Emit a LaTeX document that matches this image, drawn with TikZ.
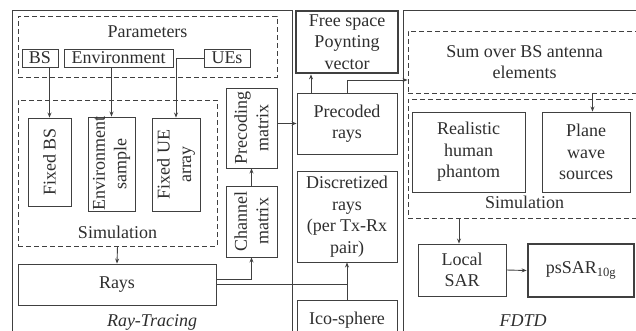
\documentclass[tikz,border=0pt]{standalone}
\usepackage{fontspec}
\setmainfont{Liberation Serif}
\usetikzlibrary{arrows.meta}
\definecolor{ink}{HTML}{404040}
\definecolor{txt}{HTML}{2E2E2E}
\tikzset{
  every node/.style={font=\fontsize{18}{21.5}\selectfont, text=txt},
  box/.style={draw=ink, line width=0.9pt, align=center, inner sep=0pt},
  thickbox/.style={box, line width=2.8pt},
  dbox/.style={draw=ink, line width=0.9pt, dash pattern=on 5pt off 3pt, inner sep=0pt},
  frame/.style={draw=ink, line width=0.9pt},
  tag/.style={anchor=base, inner sep=0pt},
  link/.style={draw=ink, line width=0.9pt},
  arr/.style={link, -{Stealth[length=5pt,width=4pt]}},
}
\begin{document}
\begin{tikzpicture}[x=1pt,y=-1pt]
\useasboundingbox (0,0) rectangle (636,331);
\clip (0,0) rectangle (636,331);

% outer frames (open towards the lower and right edges)
\draw[frame] (12,10) rectangle (292,360);
\draw[frame] (403,10) rectangle (660,360);

% ---- Ray-Tracing block ----
\node[dbox, minimum width=259pt, minimum height=61pt] (par) at (147.5,46.5) {};
\node[tag] (parlbl) at (147.5,38) {Parameters};
\node[box, minimum width=36pt, minimum height=18pt] (bs) at (40,58) {BS};
\node[box, minimum width=109pt, minimum height=18pt] (env) at (118.5,58) {Environment};
\node[box, minimum width=46pt, minimum height=18pt] (ues) at (227,58) {UEs};

\node[dbox, minimum width=199pt, minimum height=146pt] (sim1) at (117.5,173) {};
\node[tag] (sim1lbl) at (117.5,238) {Simulation};
\node[box, rotate=90, minimum width=88pt, minimum height=43pt] (fbs) at (49.5,162) {Fixed BS};
\node[box, rotate=90, minimum width=92pt, minimum height=47pt] (envs) at (111.5,164) {Environment\\sample};
\node[box, rotate=90, minimum width=93pt, minimum height=48pt] (fue) at (176,164.5) {Fixed UE\\array};

\node[box, rotate=90, minimum width=80pt, minimum height=51pt] (prec) at (251.5,128) {Precoding\\matrix};
\node[box, rotate=90, minimum width=71pt, minimum height=51pt] (chan) at (251.5,221.5) {Channel\\matrix};
\node[box, minimum width=198pt, minimum height=41pt] (rays) at (117,284.5) {Rays};
\node[tag] (rtlbl) at (152,326) {\itshape Ray-Tracing};

% ---- middle column ----
\node[thickbox, minimum width=102pt, minimum height=62pt] (fs) at (347,42) {Free space\\Poynting\\vector};
\node[box, minimum width=100pt, minimum height=61pt] (prr) at (347,123.5) {Precoded\\rays};
\node[box, minimum width=100pt, minimum height=91pt] (disc) at (347,216.5) {Discretized\\rays\\(per Tx-Rx\\pair)};
\node[box, minimum width=100pt, minimum height=40pt] (ico) at (347,320) {Ico-sphere};

% ---- FDTD block ----
\node[dbox, align=center, minimum width=233pt, minimum height=62pt] (sum) at (524.5,62) {Sum over BS antenna\\elements};
\node[dbox, minimum width=233pt, minimum height=119pt] (sim2) at (524.5,158.5) {};
\node[tag] (sim2lbl) at (524.5,208) {Simulation};
\node[box, minimum width=113pt, minimum height=80pt] (rhp) at (468.5,152) {Realistic\\human\\phantom};
\node[box, minimum width=88pt, minimum height=80pt] (pws) at (586,152) {Plane\\wave\\sources};
\node[box, minimum width=88pt, minimum height=52pt] (lsar) at (462,270) {Local\\SAR};
\node[thickbox, minimum width=106pt, minimum height=53pt] (pssar) at (581,270.5) {psSAR\textsubscript{10g}};
\node[tag] (fdtdlbl) at (523,326) {\itshape FDTD};

% ---- connectors ----
\draw[arr] (fbs.east |- bs.south) -- (fbs.east);
\draw[arr] (envs.east |- env.south) -- (envs.east);
\draw[arr] (ues.west) -| (fue.east);
\draw[arr] (sim1.south) -- (rays.north);
\draw[arr] ([yshift=5.5pt]rays.east) -| (chan.west);
\draw[arr] (chan.east) -- (prec.west);
\draw[arr] (prec.south |- prr.west) -- (prr.west);
\draw[arr] ([xshift=-36pt]prr.north) -- ([xshift=-36pt]prr.north |- fs.south);
\draw[arr] (prr.north) |- ([yshift=-18pt]sum.west);
\draw[link] (rays.east) -- (rays.east -| ico.north);
\draw[arr] (ico.north) -- (disc.south);
\draw[arr] ([xshift=6.5pt]pws.north |- sum.south) -- ([xshift=6.5pt]pws.north);
\draw[arr] ([xshift=-3pt]lsar.north |- sim2.south) -- ([xshift=-3pt]lsar.north);
\draw[arr] (lsar.east) -- (pssar.west);
\end{tikzpicture}
\end{document}
